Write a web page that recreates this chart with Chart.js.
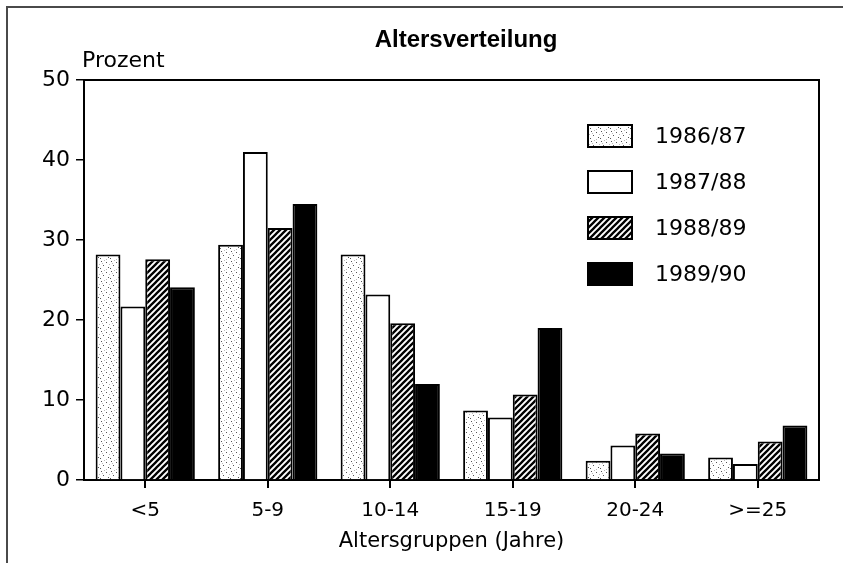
<!DOCTYPE html>
<html>
<head>
<meta charset="utf-8">
<script src="https://cdn.jsdelivr.net/npm/chart.js@4.4.1/dist/chart.umd.min.js"></script>
<style>
  html, body { margin: 0; padding: 0; background: #fff; }
  #wrap { position: relative; width: 843px; height: 563px; overflow: hidden; }
  #frame { position: absolute; left: 6px; top: 6px; right: -10px; bottom: -10px;
           border-top: 2px solid #4a4a4a; border-left: 2px solid #4a4a4a; }
  #c { position: absolute; left: 0; top: 0; }
</style>
</head>
<body>
<div id="wrap">
  <div id="frame"></div>
  <canvas id="c" width="843" height="563"></canvas>
</div>
<script>
const chartTitle = 'Altersverteilung';
const yAxisLabel = 'Prozent';
const xAxisLabel = 'Altersgruppen (Jahre)';
const categories = ['<5', '5-9', '10-14', '15-19', '20-24', '>=25'];
const seriesNames = ['1986/87', '1987/88', '1988/89', '1989/90'];
const s1986_87 = [28.2, 29.4, 28.2, 8.7, 2.4, 2.8];
const s1987_88 = [21.7, 41.0, 23.2, 7.8, 4.3, 2.0];
const s1988_89 = [27.6, 31.5, 19.6, 10.7, 5.8, 4.8];
const s1989_90 = [24.1, 34.5, 12.0, 19.0, 3.3, 6.8];
const yTicks = [0, 10, 20, 30, 40, 50];

function stipple() {
  const c = document.createElement('canvas');
  c.width = 10; c.height = 10;
  const g = c.getContext('2d');
  g.fillStyle = '#fff'; g.fillRect(0, 0, 10, 10);
  g.fillStyle = '#555';
  [[1,1],[6,2],[3,5],[8,7],[0,8]].forEach(p => g.fillRect(p[0], p[1], 1, 1));
  g.fillStyle = '#bbb';
  [[4,0],[9,4],[6,9],[2,3]].forEach(p => g.fillRect(p[0], p[1], 1, 1));
  return g.createPattern(c, 'repeat');
}
function hatch() {
  const c = document.createElement('canvas');
  c.width = 6; c.height = 6;
  const g = c.getContext('2d');
  g.fillStyle = '#fff'; g.fillRect(0, 0, 6, 6);
  g.strokeStyle = '#000'; g.lineWidth = 2.3;
  g.beginPath();
  g.moveTo(-1, 7); g.lineTo(7, -1);
  g.moveTo(-4, 4); g.lineTo(4, -4);
  g.moveTo(2, 10); g.lineTo(10, 2);
  g.stroke();
  return g.createPattern(c, 'repeat');
}

const fills = [stipple(), '#ffffff', hatch(), '#000000'];
const values = [s1986_87, s1987_88, s1988_89, s1989_90];

const datasets = seriesNames.map((n, i) => ({
  label: n,
  data: values[i],
  backgroundColor: fills[i],
  borderColor: '#000',
  borderWidth: 2,
  barPercentage: 1.0,
  categoryPercentage: 0.81
}));

const FONT = "'DejaVu Sans', 'Liberation Sans', sans-serif";

const decor = {
  id: 'decor',
  afterDraw(chart) {
    const ctx = chart.ctx;
    const a = chart.chartArea;
    ctx.save();
    ctx.strokeStyle = '#000';
    ctx.lineWidth = 2;
    ctx.beginPath();
    ctx.moveTo(a.left, a.top);
    ctx.lineTo(a.right, a.top);
    ctx.lineTo(a.right, a.bottom);
    ctx.stroke();
    ctx.fillStyle = '#000';
    ctx.font = "bold 24px 'Liberation Sans', Arial, sans-serif";
    ctx.textAlign = 'center';
    ctx.textBaseline = 'alphabetic';
    ctx.fillText(chartTitle, 466, 47);
    ctx.font = '22px ' + FONT;
    ctx.textAlign = 'left';
    ctx.fillText(yAxisLabel, 82, 67);
    const bx = 587, bw = 46, bh = 24, gap = 46, y0 = 124;
    chart.data.datasets.forEach((ds, i) => {
      const y = y0 + i * gap;
      ctx.fillStyle = ds.backgroundColor;
      ctx.fillRect(bx, y, bw, bh);
      ctx.strokeStyle = '#000';
      ctx.lineWidth = 2;
      ctx.strokeRect(bx + 1, y + 1, bw - 2, bh - 2);
      ctx.fillStyle = '#000';
      ctx.font = '22px ' + FONT;
      ctx.textAlign = 'left';
      ctx.textBaseline = 'middle';
      ctx.fillText(ds.label, 655, y + bh / 2 + 1);
    });
    ctx.restore();
  }
};

new Chart(document.getElementById('c'), {
  type: 'bar',
  data: { labels: categories, datasets },
  options: {
    responsive: false,
    animation: false,
    devicePixelRatio: 1,
    layout: { padding: { left: 0, right: 24, top: 80, bottom: 0 } },
    plugins: { legend: { display: false }, title: { display: false }, tooltip: { enabled: false } },
    scales: {
      x: {
        afterFit(s) { s.height = 83; },
        grid: { offset: false, drawOnChartArea: false, drawTicks: true, tickLength: 8, color: '#000', lineWidth: 2 },
        border: { display: true, color: '#000', width: 2 },
        ticks: { color: '#000', font: { family: FONT, size: 20 }, padding: 11, maxRotation: 0 },
        title: { display: true, text: xAxisLabel, color: '#000', font: { family: FONT, size: 21 }, padding: { top: 0, bottom: 9 } }
      },
      y: {
        min: 0, max: 50,
        afterFit(s) { s.width = 84; },
        afterBuildTicks(s) { s.ticks = yTicks.map(v => ({ value: v })); },
        grid: { drawOnChartArea: false, drawTicks: true, tickLength: 8, color: '#000', lineWidth: 1.5 },
        border: { display: true, color: '#000', width: 2 },
        ticks: { color: '#000', font: { family: FONT, size: 22 }, padding: 6 }
      }
    }
  },
  plugins: [decor]
});
</script>
</body>
</html>
